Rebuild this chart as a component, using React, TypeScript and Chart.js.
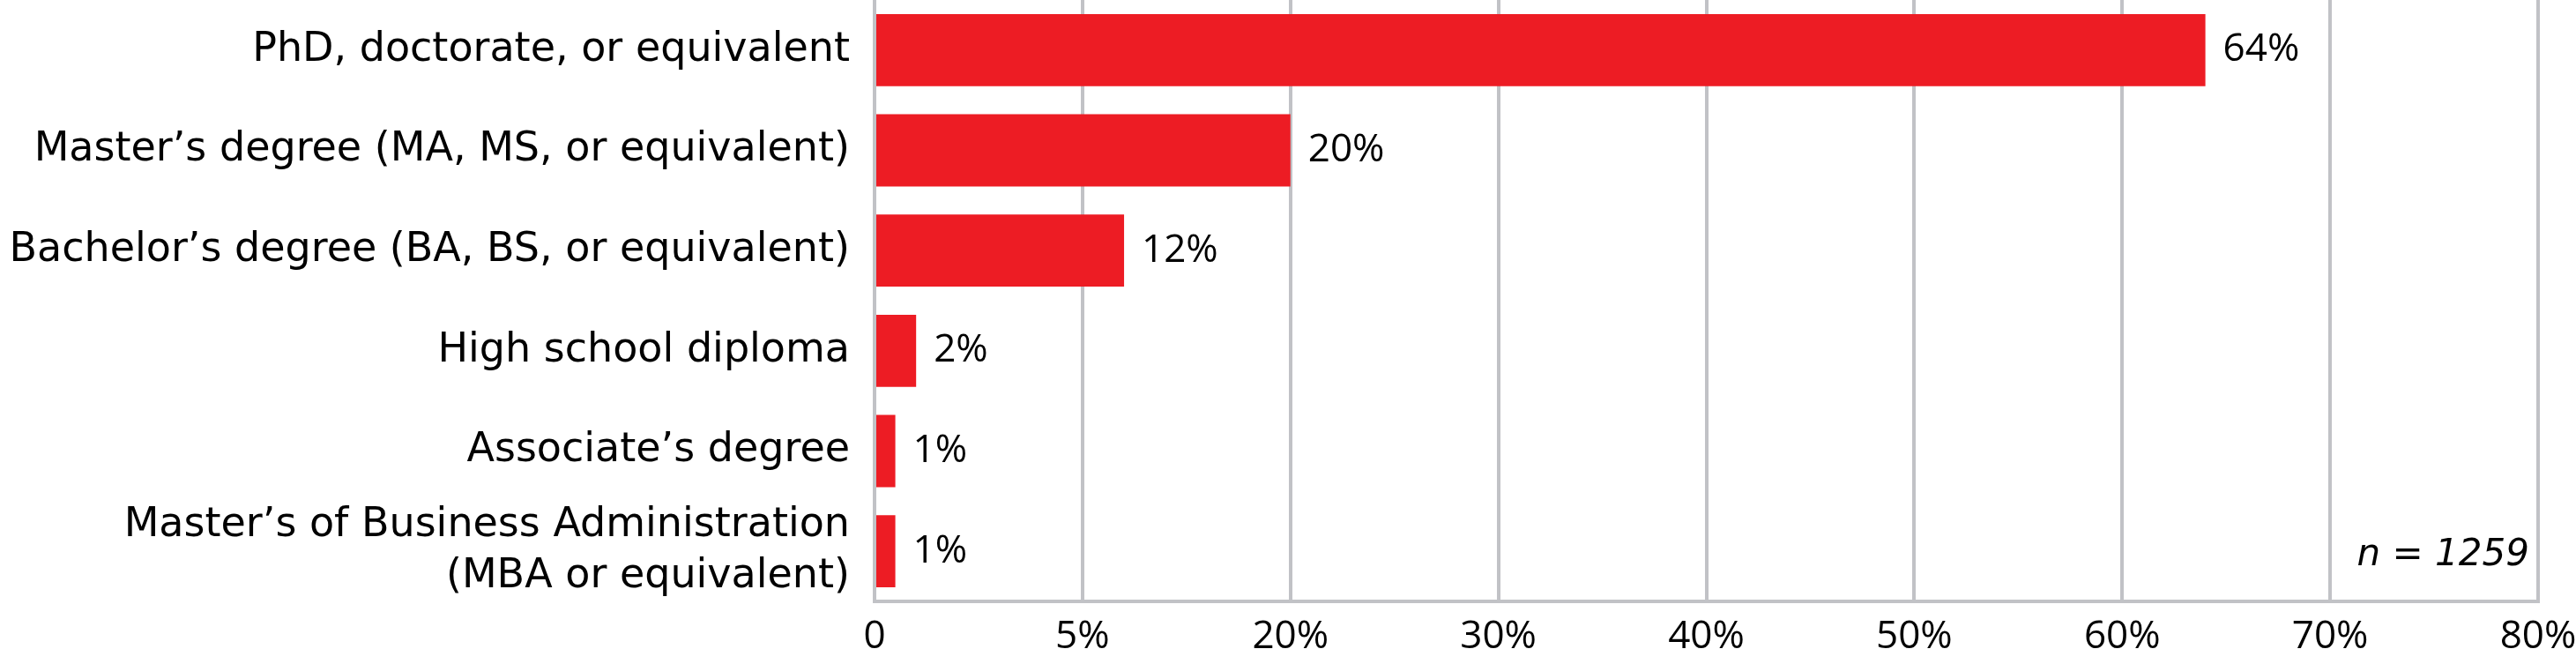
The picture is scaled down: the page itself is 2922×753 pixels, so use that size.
import React, { useEffect, useRef } from "react";
import { Chart, registerables } from "chart.js";

Chart.register(...registerables);

const categories: (string | string[])[] = [
  "PhD, doctorate, or equivalent",
  "Master’s degree (MA, MS, or equivalent)",
  "Bachelor’s degree (BA, BS, or equivalent)",
  "High school diploma",
  "Associate’s degree",
  ["Master’s of Business Administration", "(MBA or equivalent)"],
];
const values = [64, 20, 12, 2, 1, 1];
const valueLabels = ["64%", "20%", "12%", "2%", "1%", "1%"];
const tickLabels = ["0", "5%", "20%", "30%", "40%", "50%", "60%", "70%", "80%"];
const sampleNote = "n = 1259";

const NUM_FONT = "'Open Sans', sans-serif";
const NUM_SIZE = 44;
const CAT_FONT = "'DejaVu Sans', sans-serif";
const CAT_SIZE = 46;
const RED = "#ED1C24";
const GRID = "#C1C2C6";

export default function App() {
  const ref = useRef<HTMLCanvasElement | null>(null);

  useEffect(() => {
    document.body.style.margin = "0";
    const canvas = ref.current;
    if (!canvas) return;

    const labelPlugin = {
      id: "valueLabels",
      afterDatasetsDraw(chart: any) {
        const ctx = chart.ctx;
        const meta = chart.getDatasetMeta(0);
        ctx.save();
        ctx.font = `${NUM_SIZE}px ${NUM_FONT}`;
        ctx.fillStyle = "#000";
        ctx.textAlign = "left";
        ctx.textBaseline = "middle";
        meta.data.forEach((el: any, i: number) => {
          ctx.fillText(valueLabels[i], el.x + 20, el.y);
        });
        ctx.restore();
      },
      afterDraw(chart: any) {
        const ctx = chart.ctx;
        const area = chart.chartArea;
        ctx.save();
        ctx.font = `italic 42px ${CAT_FONT}`;
        ctx.fillStyle = "#000";
        ctx.textAlign = "right";
        ctx.textBaseline = "middle";
        ctx.fillText(sampleNote, area.right - 10, area.bottom - 52);
        ctx.restore();
      },
    };

    const chart = new Chart(canvas, {
      type: "bar",
      data: {
        labels: categories as any,
        datasets: [
          {
            data: values,
            backgroundColor: RED,
            borderWidth: 0,
            categoryPercentage: 1,
            barPercentage: 0.72,
          },
        ],
      },
      options: {
        indexAxis: "y",
        animation: false,
        responsive: true,
        maintainAspectRatio: false,
        devicePixelRatio: 1,
        layout: { padding: { left: 0, right: 43, top: 0, bottom: 0 } },
        plugins: {
          legend: { display: false },
          tooltip: { enabled: false },
          title: { display: false },
        },
        scales: {
          x: {
            min: 0,
            max: 80,
            ticks: {
              stepSize: 10,
              color: "#000",
              padding: 14,
              autoSkip: false,
              maxRotation: 0,
              font: { family: NUM_FONT, size: NUM_SIZE },
              callback: (_v: any, i: number) => tickLabels[i],
            },
            grid: {
              color: GRID,
              lineWidth: 4,
              drawTicks: false,
            },
            border: { display: true, color: GRID, width: 4 },
            afterFit: (scale: any) => {
              scale.height = 71;
              scale.paddingLeft = 0;
              scale.paddingRight = 0;
            },
          },
          y: {
            ticks: {
              color: "#000",
              padding: 20,
              autoSkip: false,
              font: { family: CAT_FONT, size: CAT_SIZE, lineHeight: 1.26 },
            },
            grid: { display: false },
            border: { display: false },
            afterFit: (scale: any) => {
              scale.width = 992;
              scale.paddingTop = 0;
              scale.paddingBottom = 0;
            },
          },
        },
      },
      plugins: [labelPlugin],
    });

    return () => chart.destroy();
  }, []);

  return (
    <div style={{ position: "absolute", left: 0, top: 0, width: 2922, height: 753, background: "#fff" }}>
      <canvas ref={ref} />
    </div>
  );
}
